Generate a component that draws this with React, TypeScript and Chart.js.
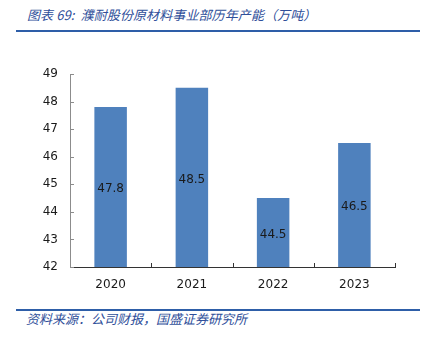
import React, { useEffect, useRef } from "react";
import { Chart, registerables } from "chart.js";

Chart.register(...registerables);

const categories = ["2020", "2021", "2022", "2023"];
const capacity = [47.8, 48.5, 44.5, 46.5];
const yTicks = [42, 43, 44, 45, 46, 47, 48, 49];

const titleText = "图表 69:  濮耐股份原材料事业部历年产能（万吨）";
const sourceText = "资料来源：公司财报，国盛证券研究所";

const tickMarks = {
  id: "tickMarks",
  afterDraw(chart: any) {
    const ctx = chart.ctx;
    const area = chart.chartArea;
    const x = chart.scales.x;
    const y = chart.scales.y;
    ctx.save();
    ctx.lineWidth = 1;
    ctx.strokeStyle = "#8c8c8c";
    y.ticks.forEach((t: any) => {
      const py = Math.round(y.getPixelForValue(t.value)) + 0.5;
      ctx.beginPath();
      ctx.moveTo(area.left, py);
      ctx.lineTo(area.left + 4, py);
      ctx.stroke();
    });
    ctx.strokeStyle = "#333333";
    for (let i = 0; i < categories.length; i++) {
      const px = Math.round(x.getPixelForValue(i + 0.5)) + 0.5;
      ctx.beginPath();
      ctx.moveTo(px, area.bottom);
      ctx.lineTo(px, area.bottom - 4);
      ctx.stroke();
    }
    // data labels at bar centres
    ctx.fillStyle = "#1a1a1a";
    ctx.font = "12px 'DejaVu Sans'";
    ctx.textAlign = "center";
    ctx.textBaseline = "middle";
    const base = y.getPixelForValue(42);
    capacity.forEach((v, i) => {
      const px = x.getPixelForValue(i);
      const top = y.getPixelForValue(v);
      ctx.fillText(v.toFixed(1), px, (top + base) / 2 + 2);
    });
    ctx.restore();
  },
};

export default function App() {
  const ref = useRef<HTMLCanvasElement>(null);
  useEffect(() => {
    if (!ref.current) return;
    const chart = new Chart(ref.current, {
      type: "bar",
      data: {
        labels: categories,
        datasets: [
          {
            data: capacity,
            backgroundColor: "#4F81BD",
            borderWidth: 0,
            categoryPercentage: 0.8,
            barPercentage: 0.5,
          },
        ],
      },
      options: {
        animation: false,
        responsive: false,
        devicePixelRatio: 1,
        layout: { padding: { top: 24, right: 30, left: 0, bottom: 0 } },
        plugins: { legend: { display: false }, tooltip: { enabled: false } },
        scales: {
          x: {
            grid: { display: false, drawTicks: false },
            border: { display: true, color: "#333333", width: 1 },
            ticks: {
              color: "#1a1a1a",
              padding: 11,
              font: { family: "'DejaVu Sans'", size: 12 },
            },
            afterFit: (s: any) => {
              s.height = 33;
            },
          },
          y: {
            min: 42,
            max: 49,
            afterBuildTicks: (s: any) => {
              s.ticks = yTicks.map((v) => ({ value: v }));
            },
            grid: { display: false, drawTicks: false },
            border: { display: true, color: "#8c8c8c", width: 1 },
            ticks: {
              color: "#1a1a1a",
              padding: 12,
              font: { family: "'DejaVu Sans'", size: 12 },
            },
            afterFit: (s: any) => {
              s.width = 70;
            },
          },
        },
      },
      plugins: [tickMarks],
    });
    return () => chart.destroy();
  }, []);

  return (
    <div
      style={{
        position: "absolute",
        left: 0,
        top: 0,
        width: 425,
        height: 338,
        background: "#fff",
        overflow: "hidden",
      }}
    >
      <div
        style={{
          position: "absolute",
          left: 27,
          top: 6,
          fontFamily: "'Noto Sans CJK SC'",
          fontStyle: "italic",
          fontSize: 13,
          letterSpacing: "0.1px",
          lineHeight: "18px",
          color: "#2f4f9a",
          whiteSpace: "pre",
        }}
      >
        {titleText}
      </div>
      <div
        style={{
          position: "absolute",
          left: 16,
          top: 30,
          width: 404,
          height: 2,
          background: "#2e5ea8",
        }}
      />
      <canvas
        ref={ref}
        width={425}
        height={250}
        style={{ position: "absolute", left: 0, top: 50, width: 425, height: 250 }}
      />
      <div
        style={{
          position: "absolute",
          left: 16,
          top: 309,
          width: 404,
          height: 2,
          background: "#2e5ea8",
        }}
      />
      <div
        style={{
          position: "absolute",
          left: 26,
          top: 311,
          fontFamily: "'Noto Sans CJK SC'",
          fontStyle: "italic",
          fontSize: 13,
          lineHeight: "16px",
          color: "#2f4f9a",
          whiteSpace: "pre",
        }}
      >
        {sourceText}
      </div>
    </div>
  );
}
